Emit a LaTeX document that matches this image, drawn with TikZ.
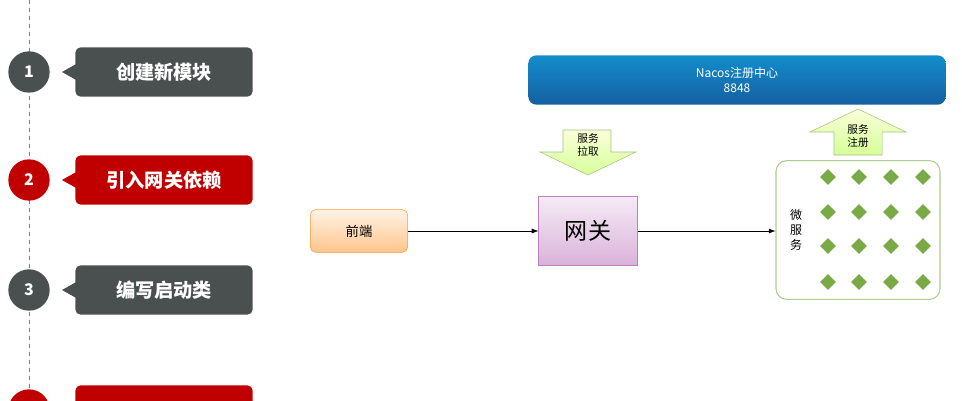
\documentclass[tikz,border=0pt]{standalone}
\usepackage{fontspec}
\setmainfont{Noto Sans CJK SC}
\usetikzlibrary{shapes.geometric,arrows.meta}
\definecolor{stepgray}{RGB}{74,80,80}
\definecolor{stepred}{RGB}{192,0,0}
\definecolor{nacosblue}{RGB}{24,112,190}
\definecolor{leafgreen}{RGB}{122,170,70}
\begin{document}
\begin{tikzpicture}[x=0.75pt,y=-0.75pt,
        num/.style={circle,minimum size=31pt,inner sep=0pt,text=white,font=\bfseries\large},
        label/.style={rounded corners=4pt,text=white,font=\bfseries\Large,minimum width=133pt,minimum height=37pt},
        flow/.style={draw,thin,-{Latex[length=5pt]}},
        bigarrow/.style={draw=leafgreen!70,top color=green!10!yellow!15,bottom color=green!40!yellow!40},
        dot/.style={diamond,fill=leafgreen,minimum size=12pt,inner sep=0pt},
      ]
      \useasboundingbox (0,0) rectangle (962,400);
      \begin{scope}
      \clip (0,0) rectangle (962,400);
      \draw[gray,dashed] (29,0) -- (29,400);
%
      \foreach \y/\c/\n/\t in {72/stepgray/1/创建新模块, 180/stepred/2/引入网关依赖, 290/stepgray/3/编写启动类, 410/stepred/4/{}}{
        \node[num,fill=\c] (step\n) at (29,\y) {\n};
        \fill[\c] (62,\y) -- (78,\y-9) -- (78,\y+9) -- cycle;
        \node[label,fill=\c] (label\n) at (164,\y) {\t};
      }
      \end{scope}
%
      \node[draw=orange!80,rounded corners=4pt,top color=orange!10,bottom color=orange!45,minimum width=73pt,minimum height=32pt] (front) at (359,231) {前端};
      \node[draw=violet!50,top color=violet!8,bottom color=violet!30,minimum width=74pt,minimum height=52pt,font=\LARGE] (gateway) at (588,231) {网关};
      \node[draw=leafgreen!60,thick,rounded corners=8pt,fill=white,minimum width=123pt,minimum height=104pt] (micro) at (858,230) {};
      \node[font=\small,align=center] (microtext) at (796,230) {微\\服\\务};
      \node[rounded corners=6pt,top color=nacosblue!80!cyan,bottom color=nacosblue!85!black,text=white,minimum width=313pt,minimum height=37pt,align=center,font=\small] (nacos) at (737,80) {Nacos注册中心\\8848};
%
      \foreach \x in {828,859,891,923}
        \foreach \y in {177,212,246,282}
          \node[dot] at (\x,\y) {};
%
      \path[flow] (front.east) -- (gateway.west);
      \path[flow] (gateway.east) -- (micro.west |- gateway.east);
%
      \draw[bigarrow] (563,130) -- (611,130) -- (611,152) -- (636,152) -- (588,175) -- (540,152) -- (563,152) -- cycle;
      \node[font=\footnotesize,align=center] (pull) at (588,145) {服务\\拉取};
      \draw[bigarrow] (834,155) -- (882,155) -- (882,132) -- (906,132) -- (858,109) -- (810,132) -- (834,132) -- cycle;
      \node[font=\footnotesize,align=center] (register) at (858,136) {服务\\注册};
\end{tikzpicture}
\end{document}
